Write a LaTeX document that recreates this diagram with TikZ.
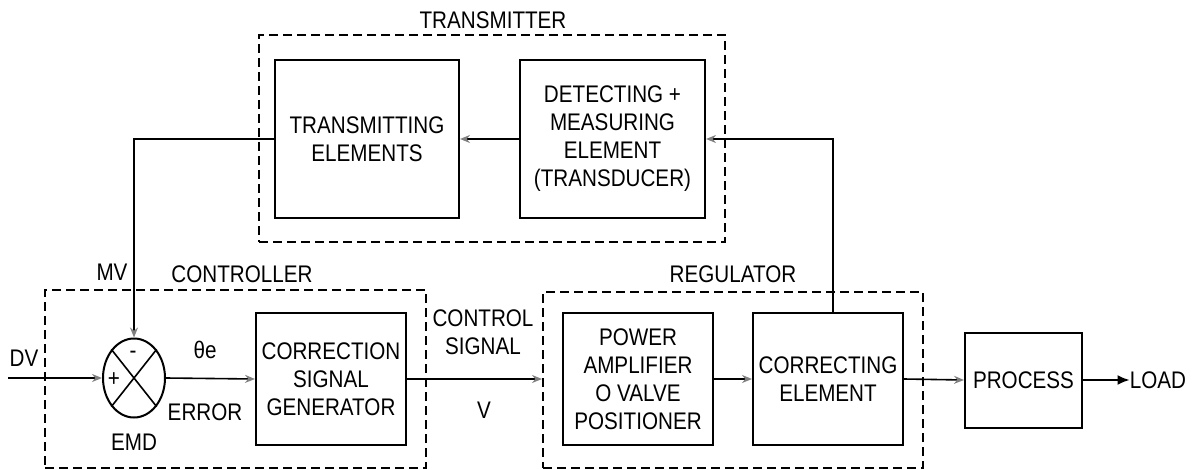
\documentclass[tikz,border=0pt]{standalone}
\usepackage{fontspec}
\setmainfont[FakeStretch=0.86]{Liberation Sans}
\usetikzlibrary{arrows.meta,positioning,shapes.geometric}

\begin{document}
\begin{tikzpicture}[x=0.5pt,y=-0.5pt,
  font=\fontsize{12}{14}\selectfont,
  blk/.style={draw,line width=1pt,align=center,inner sep=1pt},
  grp/.style={draw,line width=1pt,dash pattern=on 4.5pt off 2.5pt},
  arr/.style={line width=0.8pt,-{Stealth[length=5pt,width=4pt,gray]}},
  lbl/.style={inner sep=0pt,align=center}]
\useasboundingbox (0,0) rectangle (1202,470);
% dashed groups
\node[grp,minimum width=233pt,minimum height=103.5pt] (tx) at (492,138.5) {};
\node[grp,minimum width=190.5pt,minimum height=89pt] (ctl) at (235.5,379) {};
\node[grp,minimum width=190pt,minimum height=88pt] (reg) at (733,380) {};
\node[lbl] at (493,20) {TRANSMITTER};
\node[lbl] at (242,274) {CONTROLLER};
\node[lbl] at (733,274) {REGULATOR};
% blocks
\node[blk,minimum width=92pt,minimum height=79pt] (tel) at (367,139) {TRANSMITTING\\ELEMENTS};
\node[blk,minimum width=92.5pt,minimum height=79pt] (det) at (612.5,139) {DETECTING +\\MEASURING\\ELEMENT\\(TRANSDUCER)};
\node[blk,minimum width=75pt,minimum height=66pt] (csg) at (331,379) {CORRECTION\\SIGNAL\\GENERATOR};
\node[blk,minimum width=75pt,minimum height=66pt] (pwr) at (638,379) {POWER\\AMPLIFIER\\O VALVE\\POSITIONER};
\node[blk,minimum width=75pt,minimum height=66pt] (cor) at (828,379) {CORRECTING\\ELEMENT};
\node[blk,minimum width=58.5pt,minimum height=47.5pt] (proc) at (1023.5,380) {PROCESS};
\node[lbl] (load) at (1158,380) {LOAD};
% error detector
\node[draw,ellipse,line width=1pt,minimum width=31pt,minimum height=39.5pt,inner sep=0pt] (emd) at (134,378) {};
\draw[line width=0.8pt] (emd.north west) -- (emd.south east) (emd.north east) -- (emd.south west);
\node[lbl] at (133,355) {-};
\node[lbl] at (114,380) {+};
\node[lbl] at (134,442) {EMD};
\node[lbl] at (112,272) {MV};
\node[lbl] at (24,358) {DV};
\node[lbl] at (205,350) {θe};
\node[lbl] at (205,412) {ERROR};
\node[lbl] at (483,332) {CONTROL\\SIGNAL};
\node[lbl] at (484,410) {V};
% connectors
\coordinate (dv) at (8,378);
\draw[arr] (dv) -- (emd.west);
\draw[arr] (emd.east) -- (csg.west);
\draw[arr] (csg.east) -- (csg.east -| reg.west);
\draw[arr] (pwr.east) -- (cor.east -| pwr.east) -- (cor.west);
\draw[arr] (cor.east) -- (proc.west);
\draw[line width=0.8pt,-{Latex[length=6pt,width=5pt]}] (proc.east) -- (load.west);
\draw[arr] ([xshift=2.5pt]cor.north) |- (det.east);
\draw[arr] (det.west) -- (tel.east);
\draw[arr] (tel.west) -| (emd.north);
\end{tikzpicture}
\end{document}
